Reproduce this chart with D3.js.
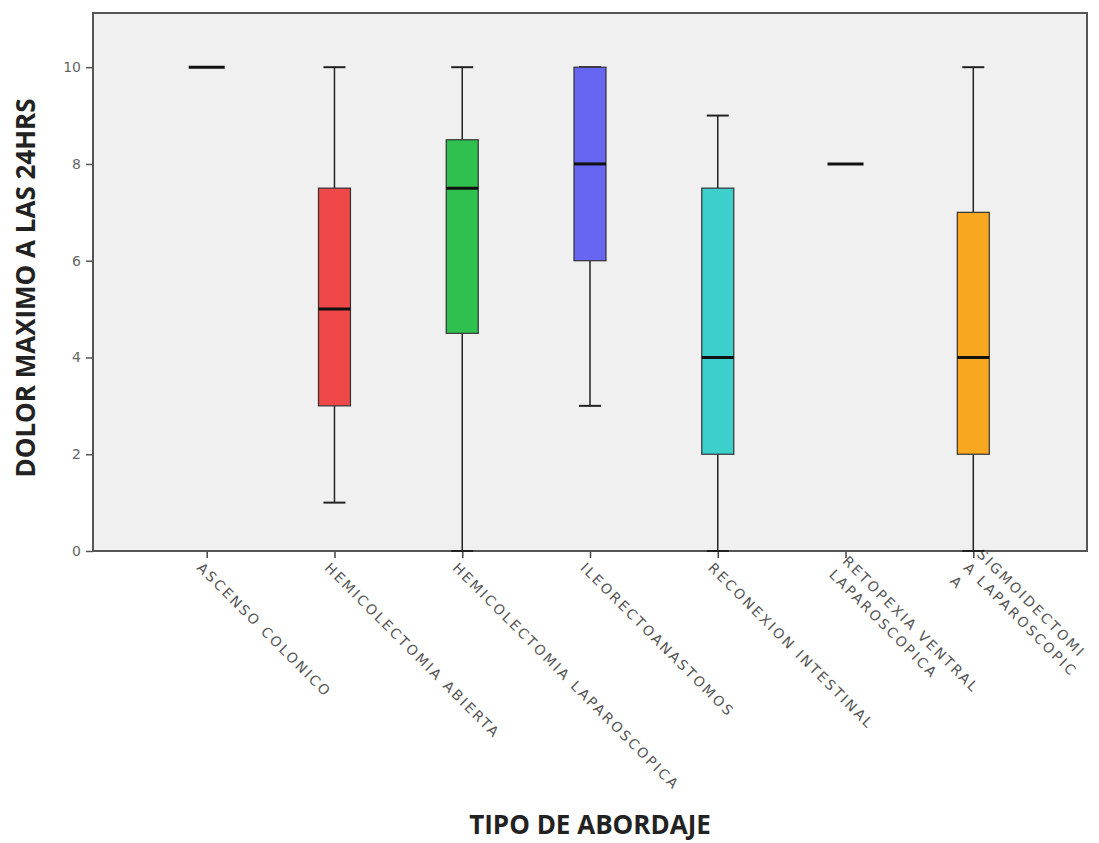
<!DOCTYPE html>
<html>
<head>
<meta charset="utf-8">
<script src="https://cdn.jsdelivr.net/npm/d3@7"></script>
<style>
  body { margin: 0; background: #fff; }
  svg { display: block; }
</style>
</head>
<body>
<div id="chart"></div>
<script>
// categories (multi-line labels as they wrap in the original)
const categories = ["ASCENSO COLONICO", "HEMICOLECTOMIA ABIERTA", "HEMICOLECTOMIA LAPAROSCOPICA",
  "ILEORECTOANASTOMOS", "RECONEXION INTESTINAL", "RETOPEXIA VENTRAL LAPAROSCOPICA",
  "SIGMOIDECTOMIA LAPAROSCOPICA"];
const labelLines = [["ASCENSO COLONICO"], ["HEMICOLECTOMIA ABIERTA"], ["HEMICOLECTOMIA LAPAROSCOPICA"],
  ["ILEORECTOANASTOMOS"], ["RECONEXION INTESTINAL"], ["RETOPEXIA VENTRAL", "LAPAROSCOPICA"],
  ["SIGMOIDECTOMI", "A LAPAROSCOPIC", "A"]];
// five number summaries
const mins    = [10, 1, 0, 3, 0, 8, 0];
const q1s     = [10, 3, 4.5, 6, 2, 8, 2];
const medians = [10, 5, 7.5, 8, 4, 8, 4];
const q3s     = [10, 7.5, 8.5, 10, 7.5, 8, 7];
const maxs    = [10, 10, 10, 10, 9, 8, 10];
const colors  = ["#f04848", "#f04848", "#2fc050", "#6666f2", "#3ccfcc", "#f04848", "#f8a820"];
const yTicks = [0, 2, 4, 6, 8, 10];

const W = 1099, H = 843;
const margin = { top: 13, right: 12, bottom: 292, left: 93 },
    width = W - margin.left - margin.right,
    height = H - margin.top - margin.bottom;

const svg = d3.select("#chart").append("svg")
    .attr("width", W).attr("height", H)
    .append("g")
    .attr("transform", `translate(${margin.left}, ${margin.top})`);

const x = d3.scalePoint().domain(categories).range([0, width]).padding(0.89);
const y = d3.scaleLinear().domain([0, 11.12]).range([height, 0]);

// plot background
svg.append("rect")
    .attr("width", width).attr("height", height)
    .attr("fill", "#f0f0f0");

// y axis
const yAxis = svg.append("g")
    .call(d3.axisLeft(y).tickValues(yTicks).tickSize(7).tickPadding(5).tickFormat(d3.format("d")));
yAxis.select(".domain").remove();
yAxis.selectAll("line").attr("stroke", "#555").attr("stroke-width", 1.5);
yAxis.selectAll("text").style("font-family", "DejaVu Sans").style("font-size", "14px").attr("fill", "#666");

// x axis
const xAxis = svg.append("g")
    .attr("transform", `translate(0, ${height})`)
    .call(d3.axisBottom(x).tickSize(7).tickFormat(""));
xAxis.select(".domain").remove();
xAxis.selectAll("line").attr("stroke", "#444").attr("stroke-width", 1.5);

// rotated category labels, wrapped lines centred on the tick
const lineGap = 19;
categories.forEach((c, i) => {
    const n = labelLines[i].length;
    const t = svg.append("text")
        .attr("transform", `translate(${x(c)}, ${height}) rotate(45)`)
        .style("font-family", "DejaVu Sans")
        .style("font-size", "14px")
        .style("letter-spacing", "2.3px")
        .attr("fill", "#555");
    labelLines[i].forEach((ln, j) => {
        t.append("tspan").attr("x", 5).attr("y", 20 + (j - (n - 1) / 2) * lineGap).text(ln);
    });
});

// frame
svg.append("rect")
    .attr("width", width).attr("height", height)
    .attr("fill", "none").attr("stroke", "#555").attr("stroke-width", 2);

const boxW = 32, capW = 22, flatW = 36;
categories.forEach((c, i) => {
    const cx = x(c);
    const g = svg.append("g");
    if (mins[i] === maxs[i]) {
        g.append("line")
            .attr("x1", cx - flatW / 2).attr("x2", cx + flatW / 2)
            .attr("y1", y(medians[i])).attr("y2", y(medians[i]))
            .attr("stroke", "#111").attr("stroke-width", 3);
        return;
    }
    // whiskers
    g.append("line").attr("x1", cx).attr("x2", cx)
        .attr("y1", y(maxs[i])).attr("y2", y(q3s[i]))
        .attr("stroke", "#222").attr("stroke-width", 1.5);
    g.append("line").attr("x1", cx).attr("x2", cx)
        .attr("y1", y(q1s[i])).attr("y2", y(mins[i]))
        .attr("stroke", "#222").attr("stroke-width", 1.5);
    [mins[i], maxs[i]].forEach(v => {
        g.append("line").attr("x1", cx - capW / 2).attr("x2", cx + capW / 2)
            .attr("y1", y(v)).attr("y2", y(v))
            .attr("stroke", "#222").attr("stroke-width", 2);
    });
    // box
    g.append("rect")
        .attr("x", cx - boxW / 2).attr("width", boxW)
        .attr("y", y(q3s[i])).attr("height", y(q1s[i]) - y(q3s[i]))
        .attr("fill", colors[i]).attr("stroke", "#333").attr("stroke-width", 1.2);
    g.append("line")
        .attr("x1", cx - boxW / 2).attr("x2", cx + boxW / 2)
        .attr("y1", y(medians[i])).attr("y2", y(medians[i]))
        .attr("stroke", "#111").attr("stroke-width", 3);
});

// axis titles
svg.append("text")
    .attr("transform", `translate(-58, ${height / 2 + 6}) rotate(-90)`)
    .attr("text-anchor", "middle")
    .style("font-family", "Open Sans")
    .style("font-weight", "bold")
    .style("font-size", "26px")
    .attr("fill", "#222")
    .text("DOLOR MAXIMO A LAS 24HRS");

svg.append("text")
    .attr("x", x(categories[3])).attr("y", height + 283)
    .attr("text-anchor", "middle")
    .style("font-family", "Open Sans")
    .style("font-weight", "bold")
    .style("font-size", "26px")
    .attr("fill", "#222")
    .text("TIPO DE ABORDAJE");
</script>
</body>
</html>
